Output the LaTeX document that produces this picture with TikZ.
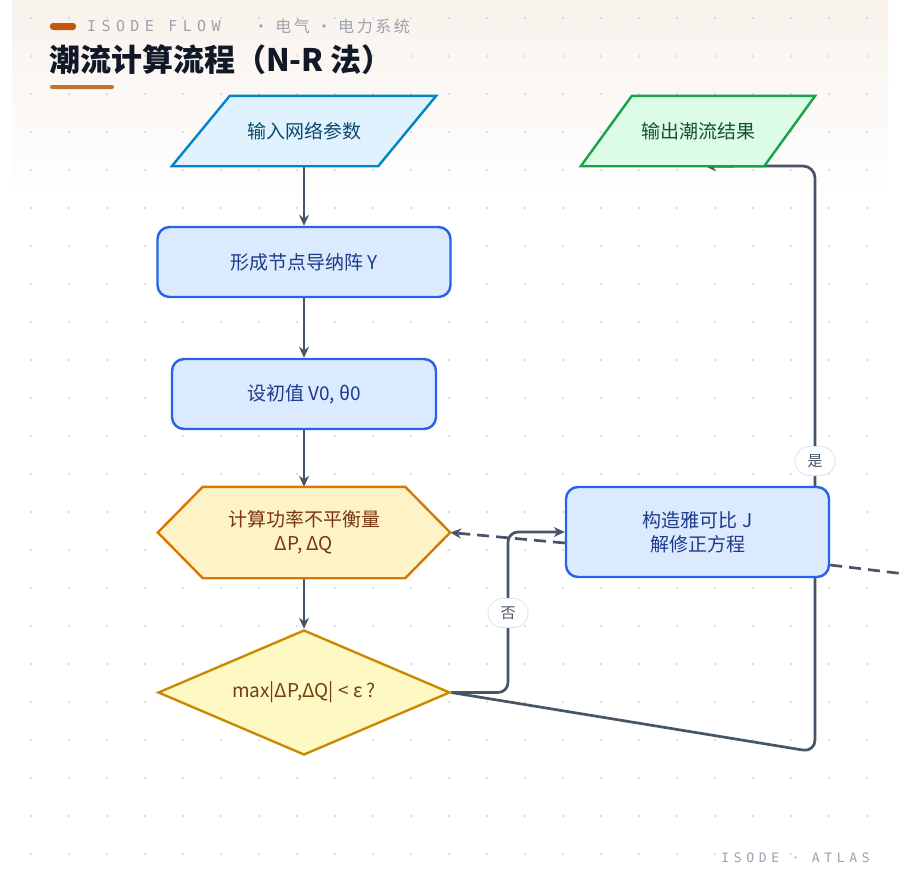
\documentclass[tikz,border=0pt]{standalone}
\usepackage{fontspec}
\setmainfont{Noto Sans CJK SC}
\newfontfamily\cjk{Noto Sans CJK SC}
\newfontfamily\monof[LetterSpace=36]{DejaVu Sans Mono}
\newfontfamily\spacedcjk[LetterSpace=16]{Noto Sans CJK SC}
\usetikzlibrary{shapes.geometric,arrows.meta,calc}
\definecolor{edgec}{HTML}{475569}
\definecolor{inFill}{HTML}{E0F2FE}\definecolor{inDraw}{HTML}{0284C7}\definecolor{inText}{HTML}{0C4A6E}
\definecolor{outFill}{HTML}{DCFCE7}\definecolor{outDraw}{HTML}{16A34A}\definecolor{outText}{HTML}{14532D}
\definecolor{pFill}{HTML}{DBEAFE}\definecolor{pDraw}{HTML}{2563EB}\definecolor{pText}{HTML}{1E3A8A}
\definecolor{hFill}{HTML}{FEF3C7}\definecolor{hDraw}{HTML}{D97706}\definecolor{hText}{HTML}{78350F}
\definecolor{dFill}{HTML}{FEF9C3}\definecolor{dDraw}{HTML}{CA8A04}\definecolor{dText}{HTML}{713F12}
\definecolor{hdrTop}{HTML}{F8F2EC}
\definecolor{dotc}{HTML}{D6D3D1}
\definecolor{greyt}{HTML}{9CA3AF}
\definecolor{pillc}{HTML}{C2570C}
\definecolor{barc}{HTML}{C4722F}
\definecolor{titlec}{HTML}{111827}
\definecolor{labb}{HTML}{E2E8F0}
\pgfdeclarelayer{bgl}\pgfdeclarelayer{edgel}\pgfdeclarelayer{shapel}
\pgfsetlayers{bgl,edgel,shapel,main}
\tikzset{
  nodefont/.style={font=\cjk\fontsize{19pt}{24pt}\selectfont},
  iobox/.style={rectangle, minimum height=70pt, inner sep=0pt, nodefont},
  inshape/.style={fill=inFill, draw=inDraw, line width=2.4pt, line join=miter},
  outshape/.style={fill=outFill, draw=outDraw, line width=2.4pt, line join=miter},
  procbox/.style={rectangle, rounded corners=12pt, fill=pFill, draw=pDraw, line width=2.4pt, text=pText, nodefont, align=center},
  hexbox/.style={rectangle, minimum width=292pt, minimum height=91pt, text=hText, nodefont, align=center},
  hexshape/.style={fill=hFill, draw=hDraw, line width=2.4pt, line join=miter},
  decbox/.style={diamond, aspect=2.34, minimum width=292pt, minimum height=125pt, inner sep=0pt, fill=dFill, draw=dDraw, line width=2.4pt, text=dText, nodefont},
  edge/.style={draw=edgec, line width=2.7pt, -{Stealth[length=11pt,width=10pt]}},
  dashedge/.style={draw=edgec, line width=2.7pt, dash pattern=on 12pt off 7pt},
  lab/.style={rectangle, rounded corners=14pt, fill=white, draw=labb, line width=1pt, minimum width=40pt, minimum height=29pt, inner sep=0pt, text=edgec, font=\cjk\fontsize{15pt}{18pt}\selectfont},
}
\begin{document}
\begin{tikzpicture}[x=1pt,y=-1pt]
\useasboundingbox (0,0) rectangle (900,881);
\begin{pgfonlayer}{bgl}
  \fill[white] (0,0) rectangle (900,881);
  \shade[top color=hdrTop, bottom color=white] (12,0) rectangle (888,200);
  \foreach \i in {0,...,22}{
    \foreach \j in {0,...,22}{
      \fill[dotc] ({31+38*\i},{18+38*\j}) circle (1.2pt);
    }
  }
\end{pgfonlayer}

% header
\fill[pillc, rounded corners=3pt] (50,23) rectangle (76,30);
\node[anchor=west, inner sep=0pt, text=greyt, font=\monof\fontsize{15pt}{18pt}\selectfont] (brand) at (87,26) {ISODE FLOW};
\node[anchor=west, inner sep=0pt, text=greyt, font=\spacedcjk\fontsize{16pt}{18pt}\selectfont] (crumb) at (253,26) {· 电气 · 电力系统};
\node[anchor=west, inner sep=0pt, text=titlec, font=\cjk\bfseries\fontsize{31pt}{36pt}\selectfont] (title) at (49,60) {潮流计算流程（N-R 法）};
\fill[barc, rounded corners=2pt] (50,85) rectangle (114,89);

% nodes
\node[iobox, minimum width=264pt, text=inText] (in) at (304,131) {输入网络参数};
\node[iobox, minimum width=234pt, text=outText] (out) at (698,131) {输出潮流结果};
\node[procbox, minimum width=293pt, minimum height=70pt] (Y) at (304,262) {形成节点导纳阵 Y};
\node[procbox, minimum width=264pt, minimum height=70pt] (init) at (304,394) {设初值 V0, θ0};
\node[hexbox] (hex) at (304,532.5) {计算功率不平衡量\\ΔP, ΔQ};
\node[decbox] (dia) at (304,692.5) {max|ΔP,ΔQ| < ε ?};
\node[procbox, minimum width=263pt, minimum height=90pt] (jac) at (697.5,532) {构造雅可比 J\\解修正方程};

\begin{pgfonlayer}{shapel}
  \filldraw[inshape] (in.south west) -- ([xshift=58pt]in.north west) -- (in.north east)
    -- ([xshift=-58pt]in.south east) -- cycle;
  \filldraw[outshape] (out.south west) -- ([xshift=51pt]out.north west) -- (out.north east)
    -- ([xshift=-51pt]out.south east) -- cycle;
  \filldraw[hexshape] (hex.west) -- ([xshift=45pt]hex.north west) -- ([xshift=-45pt]hex.north east)
    -- (hex.east) -- ([xshift=-45pt]hex.south east) -- ([xshift=45pt]hex.south west) -- cycle;
\end{pgfonlayer}

% connectors
\coordinate (nocorner) at (508,613);
\coordinate (y1) at (815,752);
\coordinate (y2) at (815,166);
\coordinate (offR) at (905,574);
\begin{pgfonlayer}{edgel}
  \draw[edge] (in.south) -- (Y.north);
  \draw[edge] (Y.south) -- (init.north);
  \draw[edge] (init.south) -- (hex.north);
  \draw[edge] (hex.south) -- (dia.north);
  \draw[edge, rounded corners=10pt] (dia.east) -| (nocorner) |- (jac.west);
  \draw[edge, dash pattern=on 12pt off 7pt] ([yshift=-11pt]jac.west) -- (hex.east);
  \draw[dashedge] ([yshift=-33pt]jac.east) -- (offR);
  \draw[edge, rounded corners=12pt] (dia.east) -- (y1) -- (y2) -- ([xshift=7pt]out.south);
\end{pgfonlayer}
\node[lab] (nolab) at (nocorner) {否};
\node[lab] (yeslab) at (815,461) {是};

% footer
\node[anchor=east, inner sep=0pt, text=greyt, font=\monof\fontsize{13pt}{15pt}\selectfont] (foot) at (870,858) {ISODE · ATLAS};
\end{tikzpicture}
\end{document}
